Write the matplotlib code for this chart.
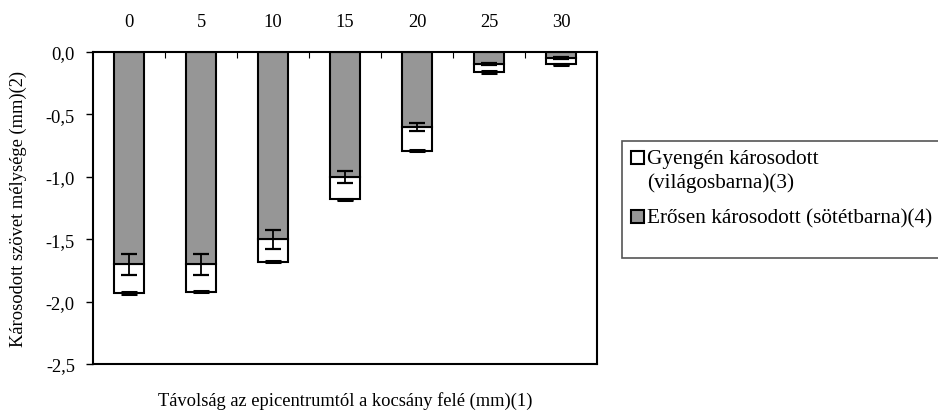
import numpy as np
import matplotlib
matplotlib.use('Agg')
import matplotlib.pyplot as plt
from matplotlib.patches import Rectangle

plt.rcParams['font.family'] = ['Liberation Serif', 'DejaVu Serif']

# Adatok
tavolsag = ['0', '5', '10', '15', '20', '25', '30']
eros = [1.70, 1.70, 1.50, 1.00, 0.60, 0.10, 0.05]        # sötétbarna mélység
osszes = [1.93, 1.92, 1.68, 1.18, 0.79, 0.16, 0.10]      # teljes mélység
eros_hiba = [0.085, 0.085, 0.075, 0.05, 0.03, 0.008, 0.006]
osszes_hiba = [0.006, 0.006, 0.006, 0.006, 0.006, 0.006, 0.006]
yticks = [0.0, -0.5, -1.0, -1.5, -2.0, -2.5]

fs = 13.3
fig = plt.figure(figsize=(9.38, 4.14), dpi=100)
ax = fig.add_axes([93 / 938, 1 - 365 / 414, 504 / 938, 312 / 414])

x = np.arange(len(tavolsag))
w = 0.41
gyenge = [o - e for o, e in zip(osszes, eros)]

# világos rész (alsó), majd sötét rész (felső)
ax.bar(x, [-g for g in gyenge], w, bottom=[-e for e in eros], color='white',
       edgecolor='black', linewidth=1.5, zorder=2)
ax.bar(x, [-e for e in eros], w, color='#969696', edgecolor='black',
       linewidth=1.5, zorder=2)

ax.errorbar(x, [-e for e in eros], yerr=eros_hiba, fmt='none', ecolor='black',
            elinewidth=1.3, capsize=6, capthick=1.6, zorder=3)
ax.errorbar(x, [-o for o in osszes], yerr=osszes_hiba, fmt='none', ecolor='black',
            elinewidth=1.3, capsize=6, capthick=2.2, zorder=3)

ax.set_xlim(-0.5, len(tavolsag) - 0.5)
ax.set_ylim(-2.5, 0)

ax.xaxis.tick_top()
ax.set_xticks(x)
ax.set_xticklabels(tavolsag, fontsize=fs)
ax.tick_params(axis='x', which='major', length=0, pad=16)
ax.set_xticks(np.arange(0.5, len(tavolsag) - 1, 1), minor=True)
ax.tick_params(axis='x', which='minor', direction='in', length=4, width=0.8, top=True)

ax.set_yticks(yticks)
ax.set_yticklabels([f'{v:.1f}'.replace('.', ',') for v in yticks], fontsize=fs)
ax.tick_params(axis='y', direction='out', length=5, width=1, pad=8)

for s in ax.spines.values():
    s.set_linewidth(1.5)
    s.set_color('black')

fig.text(18 / 938, 1 - 209 / 414, 'Károsodott szövet mélysége (mm)(2)',
         rotation=90, ha='center', va='center', fontsize=fs)
fig.text(345 / 938, 1 - 401 / 414, 'Távolság az epicentrumtól a kocsány felé (mm)(1)',
         ha='center', va='center', fontsize=fs)

# jelmagyarázat (kézzel, hogy a jel az első sorhoz igazodjon)
fig.add_artist(Rectangle((622 / 938, 1 - 259 / 414), 320 / 938, 117 / 414,
                         transform=fig.transFigure, facecolor='white',
                         edgecolor='#555555', linewidth=1.2))
szinek = ['white', '#969696']
cimkek = ['Gyengén károsodott\n(világosbarna)(3)', 'Erősen károsodott (sötétbarna)(4)']
sor_y = [160, 219]
for szin, cimke, yy in zip(szinek, cimkek, sor_y):
    fig.add_artist(Rectangle((631 / 938, 1 - (yy + 5) / 414), 13 / 938, 13 / 414,
                             transform=fig.transFigure, facecolor=szin,
                             edgecolor='black', linewidth=1.5))
    fig.text(647 / 938, 1 - (yy - 10) / 414, cimke, ha='left', va='top',
             fontsize=15.3, linespacing=1.3)

fig.savefig('out.png', dpi=100)
